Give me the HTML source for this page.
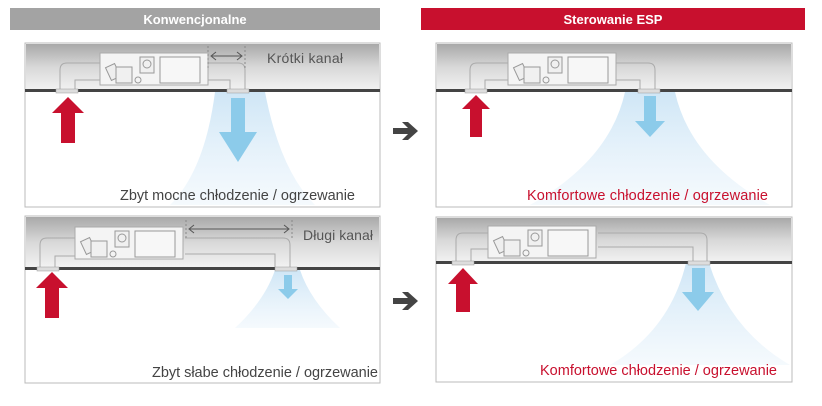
<!DOCTYPE html>
<html><head><meta charset="utf-8"><style>
body{margin:0;background:#fff;}
svg{display:block;font-family:"Liberation Sans",sans-serif;}
</style></head><body>
<svg width="822" height="406" viewBox="0 0 822 406" xmlns="http://www.w3.org/2000/svg">
<defs>
<linearGradient id="ceil" x1="0" y1="0" x2="0" y2="1">
<stop offset="0" stop-color="#a9a9a9"/><stop offset="0.5" stop-color="#d8d8d8"/><stop offset="1" stop-color="#f2f2f2"/>
</linearGradient>
<linearGradient id="cone" x1="0" y1="0" x2="0" y2="1">
<stop offset="0" stop-color="#cfe6f6"/><stop offset="1" stop-color="#eef6fc" stop-opacity="0.6"/>
</linearGradient>
<g id="unit">
<rect x="0" y="0" width="108" height="32" fill="#f4f4f4" stroke="#aaa"/>
<rect x="8" y="12" width="10" height="14" fill="#eee" stroke="#999" transform="rotate(-25 13 19)"/>
<rect x="16" y="14" width="16" height="16" fill="#f0f0f0" stroke="#999"/>
<rect x="40" y="4" width="14" height="16" fill="#f0f0f0" stroke="#999"/>
<circle cx="47" cy="11" r="4" fill="none" stroke="#999"/>
<circle cx="38" cy="27" r="3" fill="none" stroke="#999"/>
<rect x="60" y="4" width="40" height="26" fill="#f7f7f7" stroke="#999"/>
</g>
</defs>

<rect x="10" y="8" width="370" height="22" fill="#a3a3a3"/>
<text x="195" y="24" text-anchor="middle" fill="#fff" font-weight="bold" font-size="13">Konwencjonalne</text>
<rect x="421" y="8" width="384" height="22" fill="#c8102e"/>
<text x="613" y="24" text-anchor="middle" fill="#fff" font-weight="bold" font-size="13">Sterowanie ESP</text>

<!-- TL -->
<rect x="25" y="43" width="355" height="164" fill="#fff" stroke="#bbb"/>
<rect x="26" y="44" width="353" height="46" fill="url(#ceil)"/>
<path d="M215 92 L265 92 Q280 170 315 205 L170 205 Q205 170 215 92Z" fill="url(#cone)"/>
<path d="M60 90 V70 Q60 63 67 63 H100 M75 90 V80 H100" fill="none" stroke="#aaa"/>
<path d="M208 63 H238 Q245 63 245 70 V90 M208 80 H230 V90" fill="none" stroke="#aaa"/>
<use href="#unit" x="100" y="53"/>
<line x1="208" y1="46" x2="208" y2="68" stroke="#888" stroke-dasharray="2,2"/>
<line x1="245" y1="46" x2="245" y2="68" stroke="#888" stroke-dasharray="2,2"/>
<path d="M212 56 H241 M216 52 L211 56 L216 60 M237 52 L242 56 L237 60" fill="none" stroke="#555"/>
<text x="267" y="63" font-size="14" fill="#555" textLength="76">Krótki kanał</text>
<rect x="25" y="89" width="355" height="3" fill="#444"/>
<rect x="56" y="89" width="22" height="4" fill="#ddd" stroke="#999" stroke-width="0.5"/>
<rect x="227" y="89" width="22" height="4" fill="#ddd" stroke="#999" stroke-width="0.5"/>
<path d="M68 97 L84 113 L75 113 L75 143 L61 143 L61 113 L52 113Z" fill="#c8102e"/>
<path d="M231 98 H245 V132 H257 L238 162 L219 132 H231Z" fill="#8ccbea"/>
<text x="120" y="200" font-size="14.5" fill="#444" textLength="235">Zbyt mocne chłodzenie / ogrzewanie</text>

<!-- TR -->
<rect x="436" y="43" width="356" height="164" fill="#fff" stroke="#bbb"/>
<rect x="437" y="44" width="354" height="46" fill="url(#ceil)"/>
<path d="M625 92 L675 92 Q690 160 770 205 L530 205 Q610 160 625 92Z" fill="url(#cone)"/>
<path d="M470 90 V70 Q470 63 477 63 H508 M485 90 V80 H508" fill="none" stroke="#aaa"/>
<path d="M616 63 H648 Q655 63 655 70 V90 M616 80 H640 V90" fill="none" stroke="#aaa"/>
<use href="#unit" x="508" y="53"/>
<rect x="436" y="89" width="356" height="3" fill="#444"/>
<rect x="465" y="89" width="22" height="4" fill="#ddd" stroke="#999" stroke-width="0.5"/>
<rect x="638" y="89" width="22" height="4" fill="#ddd" stroke="#999" stroke-width="0.5"/>
<path d="M476 95 L490 109 L482 109 L482 137 L470 137 L470 109 L462 109Z" fill="#c8102e"/>
<path d="M644 96 H656 V121 H665 L650 137 L635 121 H644Z" fill="#8ccbea"/>
<text x="527" y="200" font-size="14.5" fill="#c8102e" textLength="241">Komfortowe chłodzenie / ogrzewanie</text>

<!-- BL -->
<rect x="25" y="216" width="355" height="167" fill="#fff" stroke="#bbb"/>
<rect x="26" y="217" width="353" height="50" fill="url(#ceil)"/>
<path d="M275 270 L300 270 Q310 300 340 328 L235 328 Q265 300 275 270Z" fill="url(#cone)"/>
<path d="M40 268 V245 Q40 238 47 238 H75 M55 268 V256 H75" fill="none" stroke="#aaa"/>
<path d="M185 238 H283 Q290 238 290 245 V268 M185 254 H275 V268" fill="none" stroke="#aaa"/>
<use href="#unit" x="75" y="227"/>
<line x1="186" y1="220" x2="186" y2="240" stroke="#888" stroke-dasharray="2,2"/>
<line x1="292" y1="220" x2="292" y2="240" stroke="#888" stroke-dasharray="2,2"/>
<path d="M190 229 H288 M194 225 L189 229 L194 233 M284 225 L289 229 L284 233" fill="none" stroke="#555"/>
<text x="303" y="240" font-size="14" fill="#555" textLength="70">Długi kanał</text>
<rect x="25" y="267" width="355" height="3" fill="#444"/>
<rect x="37" y="267" width="22" height="4" fill="#ddd" stroke="#999" stroke-width="0.5"/>
<rect x="275" y="267" width="22" height="4" fill="#ddd" stroke="#999" stroke-width="0.5"/>
<path d="M52 272 L68 288 L59 288 L59 318 L45 318 L45 288 L36 288Z" fill="#c8102e"/>
<path d="M284 275 H292 V289 H298 L288 299 L278 289 H284Z" fill="#8ccbea"/>
<text x="152" y="377" font-size="14.5" fill="#444" textLength="226">Zbyt słabe chłodzenie / ogrzewanie</text>

<!-- BR -->
<rect x="436" y="217" width="356" height="165" fill="#fff" stroke="#bbb"/>
<rect x="437" y="218" width="354" height="44" fill="url(#ceil)"/>
<path d="M686 263 L709 263 Q730 330 790 365 L610 365 Q670 330 686 263Z" fill="url(#cone)"/>
<path d="M456 262 V240 Q456 233 463 233 H488 M471 262 V249 H488" fill="none" stroke="#aaa"/>
<path d="M598 233 H700 Q707 233 707 240 V262 M598 247 H693 V262" fill="none" stroke="#aaa"/>
<use href="#unit" x="488" y="226"/>
<rect x="436" y="261" width="356" height="3" fill="#444"/>
<rect x="452" y="261" width="22" height="4" fill="#ddd" stroke="#999" stroke-width="0.5"/>
<rect x="688" y="261" width="22" height="4" fill="#ddd" stroke="#999" stroke-width="0.5"/>
<path d="M463 268 L478 284 L470 284 L470 312 L456 312 L456 284 L448 284Z" fill="#c8102e"/>
<path d="M692 268 H705 V292 H714 L698 311 L682 292 H692Z" fill="#8ccbea"/>
<text x="540" y="375" font-size="14.5" fill="#c8102e" textLength="237">Komfortowe chłodzenie / ogrzewanie</text>

<path d="M393 128 H408 L402 122 L408 122 L418 131 L408 140 L402 140 L408 134 H393Z" fill="#444"/>
<path d="M393 298 H408 L402 292 L408 292 L418 301 L408 310 L402 310 L408 304 H393Z" fill="#444"/>
</svg>
</body></html>
